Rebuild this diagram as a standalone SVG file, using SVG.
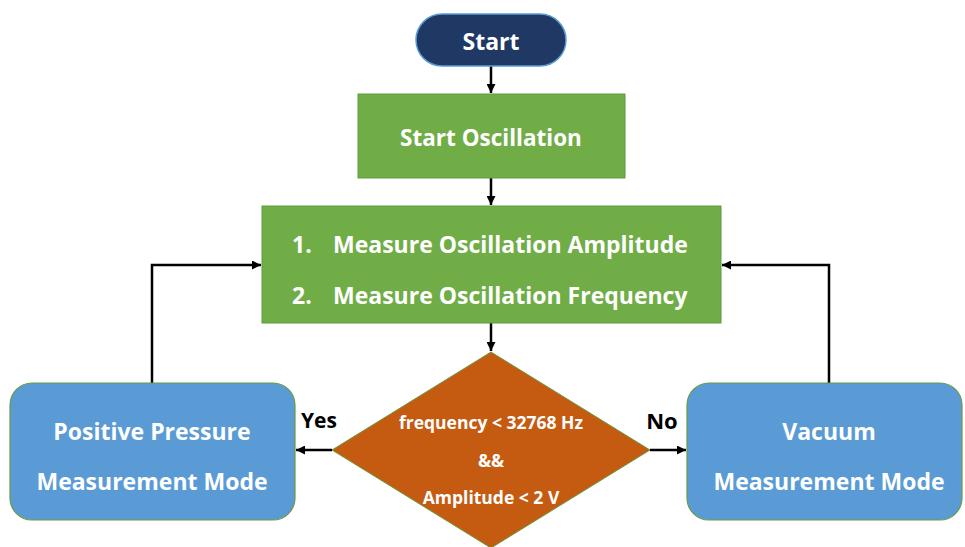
<svg xmlns="http://www.w3.org/2000/svg" width="965" height="547" viewBox="0 0 965 547">
<defs>
<marker id="ah" viewBox="0 0 10 10" refX="10" refY="5" markerWidth="9" markerHeight="9" orient="auto" markerUnits="userSpaceOnUse">
<path d="M0,0 L10,5 L0,10 z" fill="#000"/>
</marker>
<style>
text{font-family:"Open Sans","Liberation Sans",sans-serif;font-weight:bold;fill:#fff;text-anchor:middle;dominant-baseline:central}
.green{fill:#70ad47;stroke:#5f9a3c;stroke-width:1}
.blue{fill:#5b9bd5;stroke:#6a9a45;stroke-width:1.2}
.conn{fill:none;stroke:#000;stroke-width:2.5}
.lbl{fill:#000}
</style>
</defs>
<rect width="965" height="547" fill="#fff"/>
<g id="connectors">
<line class="conn" x1="491" y1="66" x2="491" y2="93" marker-end="url(#ah)"/>
<line class="conn" x1="491" y1="178" x2="491" y2="205" marker-end="url(#ah)"/>
<line class="conn" x1="491" y1="323" x2="491" y2="351" marker-end="url(#ah)"/>
<polyline class="conn" points="152,383 152,265 261,265" marker-end="url(#ah)"/>
<polyline class="conn" points="829,383 829,265 722,265" marker-end="url(#ah)"/>
<line class="conn" x1="332" y1="450" x2="296" y2="450" marker-end="url(#ah)"/>
<line class="conn" x1="650" y1="450" x2="686" y2="450" marker-end="url(#ah)"/>
<text class="lbl" x="319" y="420" font-size="21">Yes</text>
<text class="lbl" x="662" y="420" font-size="22">No</text>
</g>
<g id="start">
<rect x="416" y="14" width="150" height="52" rx="26" fill="#1f3864" stroke="#5b9bd5" stroke-width="1.5"/>
<text x="491" y="41" font-size="23">Start</text>
</g>
<g id="start-osc">
<rect class="green" x="358" y="94" width="267" height="84"/>
<text x="491" y="137" font-size="22.5">Start Oscillation</text>
</g>
<g id="measure">
<rect class="green" x="262" y="206" width="459" height="117"/>
<text x="292" y="244" font-size="23" style="text-anchor:start">1.</text>
<text x="333" y="244" font-size="23" style="text-anchor:start">Measure Oscillation Amplitude</text>
<text x="292" y="295" font-size="23" style="text-anchor:start">2.</text>
<text x="333" y="295" font-size="23" style="text-anchor:start">Measure Oscillation Frequency</text>
</g>
<g id="decision">
<polygon points="491,352 650,450 491,548 332,450" fill="#c55a11" stroke="#6a9a45" stroke-width="1"/>
<text x="491" y="422" font-size="17.5">frequency &lt; 32768 Hz</text>
<text x="491" y="460" font-size="17.5">&amp;&amp;</text>
<text x="491" y="497" font-size="17.5">Amplitude &lt; 2 V</text>
</g>
<g id="positive">
<rect class="blue" x="10" y="383" width="285" height="137" rx="22"/>
<text x="152" y="431" font-size="23">Positive Pressure</text>
<text x="152" y="481" font-size="23">Measurement Mode</text>
</g>
<g id="vacuum">
<rect class="blue" x="687" y="383" width="275" height="137" rx="22"/>
<text x="829" y="431" font-size="23">Vacuum</text>
<text x="829" y="481" font-size="23">Measurement Mode</text>
</g>
</svg>
